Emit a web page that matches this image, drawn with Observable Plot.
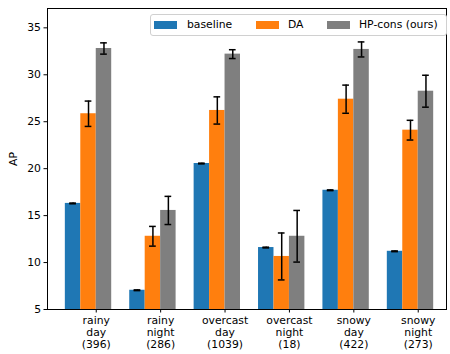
<!DOCTYPE html>
<html>
<head>
<meta charset="utf-8">
<script src="https://cdn.jsdelivr.net/npm/d3@7"></script>
<script src="https://cdn.jsdelivr.net/npm/@observablehq/plot@0.6"></script>
<style>
  html, body { margin: 0; padding: 0; background: white; }
  #wrap { position: relative; width: 450px; height: 354px; font-family: "DejaVu Sans", sans-serif; font-size: 10.8px; }
  #legend { position: absolute; left: 150px; top: 14px; width: 295px; height: 20px; border: 1px solid #d0d0d0; border-radius: 3px; background: rgba(255,255,255,0.8); }
  .patch { position: absolute; top: 5.5px; width: 23px; height: 8px; }
  .ltxt { position: absolute; top: 2.5px; line-height: 14px; white-space: nowrap; color: black; }
</style>
</head>
<body>
<div id="wrap"></div>
<script>
const categories = ["rainy\nday\n(396)", "rainy\nnight\n(286)", "overcast\nday\n(1039)", "overcast\nnight\n(18)", "snowy\nday\n(422)", "snowy\nnight\n(273)"];
const seriesNames = ["baseline", "DA", "HP-cons (ours)"];
const seriesColors = ["#1f77b4", "#ff7f0e", "#7f7f7f"];
const baseline = [16.3, 7.05, 20.55, 11.6, 17.7, 11.2];
const baselineErr = [0.04, 0.04, 0.04, 0.04, 0.04, 0.04];
const da = [25.85, 12.8, 26.2, 10.65, 27.4, 24.1];
const daErr = [1.35, 1.05, 1.45, 2.5, 1.5, 1.05];
const hp = [32.8, 15.55, 32.2, 12.8, 32.7, 28.25];
const hpErr = [0.6, 1.5, 0.47, 2.75, 0.8, 1.7];
const yTicks = [5, 10, 15, 20, 25, 30, 35];

const W = 0.24;      // bar width in group units
const CAP = 0.052;   // error cap half width
const values = [baseline, da, hp];
const errs = [baselineErr, daErr, hpErr];

const rows = [];
seriesNames.forEach((s, si) => {
  categories.forEach((c, ci) => {
    const xc = ci + (si - 1) * W;
    rows.push({series: s, color: seriesColors[si], cat: c, xc, x1: xc - W / 2, x2: xc + W / 2,
      v: values[si][ci], lo: values[si][ci] - errs[si][ci], hi: values[si][ci] + errs[si][ci]});
  });
});
const caps = rows.flatMap(d => [{xc: d.xc, y: d.lo}, {xc: d.xc, y: d.hi}]);
const tickPos = categories.map((c, i) => i + W / 2);

const chart = Plot.plot({
  width: 450,
  height: 354,
  marginLeft: 47,
  marginRight: 4,
  marginTop: 8,
  marginBottom: 45,
  style: {fontFamily: "DejaVu Sans, sans-serif", fontSize: "10.8px", background: "white", color: "black"},
  x: {type: "linear", domain: [-0.637, 5.559]},
  y: {domain: [5, 37.06]},
  marks: [
    Plot.rectY(rows, {x1: "x1", x2: "x2", y1: 0, y2: "v", fill: "color", clip: true}),
    Plot.ruleX(rows, {x: "xc", y1: "lo", y2: "hi", stroke: "black", strokeWidth: 1.5}),
    Plot.ruleY(caps, {x1: d => d.xc - CAP, x2: d => d.xc + CAP, y: "y", stroke: "black", strokeWidth: 1.5}),
    Plot.axisY({ticks: yTicks, tickSize: 3.5, tickPadding: 3, label: "AP", labelAnchor: "center", labelArrow: "none", labelOffset: 38}),
    Plot.axisX({ticks: tickPos, tickSize: 3.5, tickPadding: 2, lineHeight: 1.13, label: null,
      tickFormat: d => categories[Math.round(d - W / 2)]}),
    Plot.frame({stroke: "black", strokeWidth: 1})
  ]
});

const wrap = document.getElementById("wrap");
wrap.appendChild(chart);

const legend = document.createElement("div");
legend.id = "legend";
const lpos = [[3, 36], [105, 137], [176, 208]];
seriesNames.forEach((s, i) => {
  const p = document.createElement("div");
  p.className = "patch";
  p.style.left = lpos[i][0] + "px";
  p.style.background = seriesColors[i];
  legend.appendChild(p);
  const t = document.createElement("div");
  t.className = "ltxt";
  t.style.left = lpos[i][1] + "px";
  t.textContent = s;
  legend.appendChild(t);
});
wrap.appendChild(legend);
</script>
</body>
</html>
